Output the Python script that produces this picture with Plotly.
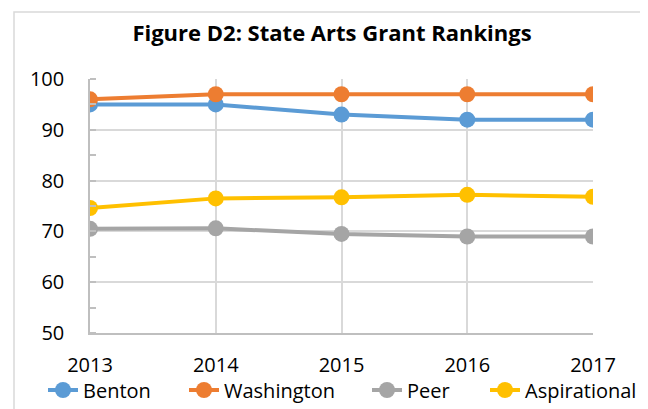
import plotly.graph_objects as go

years = ["2013", "2014", "2015", "2016", "2017"]
benton = [95, 95, 93, 92, 92]
washington = [96, 97, 97, 97, 97]
peer = [70.5, 70.6, 69.5, 69, 69]
aspirational = [74.6, 76.5, 76.7, 77.2, 76.8]

series_names = ["Benton", "Washington", "Peer", "Aspirational"]
series_values = [benton, washington, peer, aspirational]
series_colors = ["#5B9BD5", "#ED7D31", "#A5A5A5", "#FFC000"]

FONT = "'Open Sans', Lato, sans-serif"

# page body has an 8px margin: figure is drawn at (8, 8)
OFF = 8
W, H = 648 - OFF, 409 - OFF
L, R, T, B = 90 - OFF, W - (593 - OFF), 79 - OFF, H - (333 - OFF)
pw, ph = W - L - R, H - T - B

legend_text_x = [85, 226, 409, 527]

fig = go.Figure()
legend_keys = ["legend", "legend2", "legend3", "legend4"]
for i, (name, vals, col) in enumerate(zip(series_names, series_values, series_colors)):
    fig.add_trace(go.Scatter(
        x=years, y=vals, name=name, mode="lines+markers",
        line=dict(color=col, width=4),
        marker=dict(color=col, size=16),
        legend=legend_keys[i],
    ))

legend_layout = {}
for i, key in enumerate(legend_keys):
    legend_layout[key] = dict(
        orientation="h", xanchor="left", xref="container",
        x=(legend_text_x[i] - OFF - 42) / W,
        y=1 - (390 - OFF) / H, yanchor="middle", yref="container",
        font=dict(size=20, family=FONT), bgcolor="rgba(0,0,0,0)",
    )

fig.update_layout(
    width=W, height=H,
    margin=dict(l=L, r=R, t=T, b=B, autoexpand=False),
    paper_bgcolor="white", plot_bgcolor="white",
    font=dict(family=FONT, size=20, color="#000000"),
    title=dict(text="<b>Figure D2: State Arts Grant Rankings</b>",
               x=(332 - OFF) / W, xanchor="center", xref="container",
               y=1 - (33 - OFF) / H, yanchor="middle", yref="container",
               font=dict(size=22, family=FONT)),
    showlegend=True,
    shapes=[dict(type="rect", xref="paper", yref="paper",
                 x0=(14 - 90) / pw, x1=(646 - 90) / pw,
                 y0=(333 - 415) / ph, y1=(333 - 12) / ph,
                 line=dict(color="#D9D9D9", width=1.5), layer="below")],
    **legend_layout,
)
fig.update_xaxes(
    type="category", range=[0, 4],
    showgrid=True, gridcolor="#D9D9D9", gridwidth=1.5,
    showline=True, linecolor="#BFBFBF", linewidth=1.5,
    ticks="outside", ticklen=0, tickcolor="rgba(0,0,0,0)",
    ticklabelstandoff=13, tickfont=dict(size=20),
    zeroline=False,
)
fig.update_yaxes(
    range=[50, 100], dtick=10, tick0=50,
    showgrid=True, gridcolor="#D9D9D9", gridwidth=1.5,
    showline=True, linecolor="#BFBFBF", linewidth=1.5,
    ticks="outside", ticklen=20, tickcolor="rgba(0,0,0,0)",
    ticklabelstandoff=0, tickfont=dict(size=20),
    minor=dict(dtick=5, tick0=50, ticks="inside", ticklen=6,
               tickcolor="#BFBFBF", tickwidth=1.5, showgrid=False),
    zeroline=False,
)

fig.write_html("out.html")
